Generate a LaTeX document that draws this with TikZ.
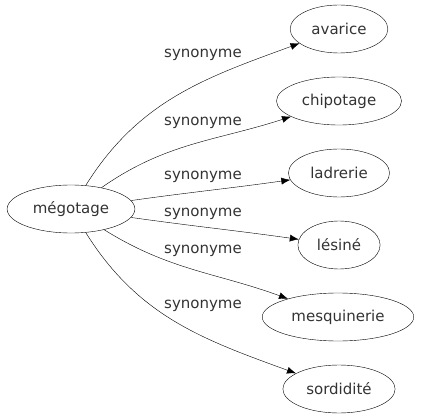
\documentclass[tikz,border=0pt]{standalone}
\usepackage{fontspec}
\setmainfont{DejaVu Sans}
\usetikzlibrary{shapes.geometric,arrows.meta}

\begin{document}
\begin{tikzpicture}[x=1pt,y=-1pt,font=\fontsize{15}{18}\selectfont,
  word/.style={draw,ellipse,text=black!80,inner xsep=7pt,minimum height=48pt},
  syn/.style={text=black!80,inner sep=0pt},
  link/.style={-{Latex[length=9pt,width=7pt]},shorten >=0pt}]
\useasboundingbox (0,0) rectangle (422,419);
\path node[word] (megotage) at (71,209) {mégotage}
  node[word] (avarice) at (339,29) {avarice}
  node[word] (chipotage) at (339,101) {chipotage}
  node[word] (ladrerie) at (339,173) {ladrerie}
  node[word] (lesine) at (339,245) {lésiné}
  node[word] (mesquinerie) at (338,317) {mesquinerie}
  node[word] (sordidite) at (339,389) {sordidité};
% labels
\node[syn] (s1) at (203,55) {synonyme};
\node[syn] (s2) at (203,123) {synonyme};
\node[syn] (s3) at (203,177) {synonyme};
\node[syn] (s4) at (203,214) {synonyme};
\node[syn] (s5) at (203,251) {synonyme};
\node[syn] (s6) at (203,306) {synonyme};
% edges
\draw[link] (megotage) to[out=58,in=200] (avarice);
\draw[link] (megotage) to[out=35,in=198] (chipotage);
\draw[link] (megotage) to[out=8,in=188] (ladrerie);
\draw[link] (megotage) to[out=-8,in=172] (lesine);
\draw[link] (megotage) to[out=-32,in=160] (mesquinerie);
\draw[link] (megotage) to[out=-58,in=160] (sordidite);
\end{tikzpicture}
\end{document}
